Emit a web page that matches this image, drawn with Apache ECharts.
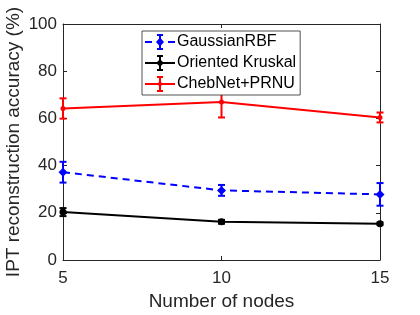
<!DOCTYPE html>
<html><head><meta charset="utf-8">
<script src="https://cdn.jsdelivr.net/npm/echarts@6/dist/echarts.min.js"></script>
<style>html,body{margin:0;padding:0;background:#fff}#c{width:420px;height:315px}</style>
</head><body><div id="c"></div>
<script>
const nodes = [5, 10, 15];
const gaussMean = [37.2, 29.5, 27.8];
const gaussErr = [4.4, 2.3, 4.8];
const kruskalMean = [20.3, 16.2, 15.4];
const kruskalErr = [1.7, 0.8, 0.5];
const chebMean = [64.2, 67.0, 60.4];
const chebErr = [4.3, 6.6, 2.1];
const yTicks = [0, 20, 40, 60, 80, 100];
const xTicks = [5, 10, 15];

const FONT = 'Liberation Sans';
const AX = '#262626';

function lineData(m) { return nodes.map((x, i) => [x, m[i]]); }
function errData(m, e) { return nodes.map((x, i) => [x, m[i] - e[i], m[i] + e[i]]); }
function errSeries(m, e, color) {
  return {
    type: 'custom', z: 3, silent: true,
    data: errData(m, e),
    renderItem: function (params, api) {
      const lo = api.coord([api.value(0), api.value(1)]);
      const hi = api.coord([api.value(0), api.value(2)]);
      const w = 3.5;
      const st = { stroke: color, lineWidth: 2 };
      return { type: 'group', children: [
        { type: 'line', shape: { x1: lo[0], y1: lo[1], x2: hi[0], y2: hi[1] }, style: st },
        { type: 'line', shape: { x1: lo[0] - w, y1: lo[1], x2: lo[0] + w, y2: lo[1] }, style: st },
        { type: 'line', shape: { x1: hi[0] - w, y1: hi[1], x2: hi[0] + w, y2: hi[1] }, style: st }
      ]};
    }
  };
}

// legend icons: line + error bar + marker, in a 30x18 box
const barPart = 'M14 1 L16 1 L16 17 L14 17 Z M12 1 L18 1 L18 3 L12 3 Z M12 15 L18 15 L18 17 L12 17 Z ';
const frame = 'M0 0 L0.01 0 L0.01 0.01 Z M30 18 L29.99 18 L29.99 17.99 Z ';
const iconGauss = 'path://' + frame + 'M0 8 L7 8 L7 10 L0 10 Z M23 8 L30 8 L30 10 L23 10 Z ' + barPart + 'M15 4.5 L19 9 L15 13.5 L11 9 Z';
const iconKrus = 'path://' + frame + 'M0 8 L30 8 L30 10 L0 10 Z ' + barPart + 'M13.5 6.5 L16.5 6.5 L17.5 7.5 L17.5 10.5 L16.5 11.5 L13.5 11.5 L12.5 10.5 L12.5 7.5 Z';
const iconCheb = 'path://' + frame + 'M0 8 L30 8 L30 10 L0 10 Z ' + barPart + 'M14 7 L16 7 L17 8 L17 10 L16 11 L14 11 L13 10 L13 8 Z';

const chart = echarts.init(document.getElementById('c'), null, { renderer: 'canvas' });
chart.setOption({
  animation: false,
  backgroundColor: '#fff',
  textStyle: { fontFamily: FONT },
  grid: { left: 63, right: 40, top: 24, bottom: 55, show: false, outerBoundsMode: 'none', containLabel: false },
  legend: {
    orient: 'vertical', left: 142, top: 31,
    data: [
      { name: 'GaussianRBF', icon: iconGauss },
      { name: 'Oriented Kruskal', icon: iconKrus },
      { name: 'ChebNet+PRNU', icon: iconCheb }
    ],
    backgroundColor: '#fff', borderColor: '#262626', borderWidth: 0.8,
    padding: [2, 4, 2, 3], itemGap: 3, itemWidth: 30, itemHeight: 18,
    textStyle: { fontFamily: FONT, fontSize: 16, color: '#000', padding: [0, 0, 0, -3] }
  },
  xAxis: [{
    type: 'value', min: 5, max: 15, interval: 5,
    name: 'Number of nodes', nameLocation: 'middle', nameGap: 32, nameMoveOverlap: false,
    nameTextStyle: { fontFamily: FONT, fontSize: 19, color: AX },
    axisLine: { show: true, lineStyle: { color: AX, width: 1 } },
    axisTick: { show: true, inside: true, length: 4, lineStyle: { color: AX } },
    axisLabel: { fontFamily: FONT, fontSize: 17, color: AX, margin: 10,
      formatter: v => xTicks.includes(v) ? String(v) : '' },
    splitLine: { show: false }
  }, {
    type: 'value', position: 'top', min: 5, max: 15, interval: 5,
    axisLine: { show: true, onZero: false, lineStyle: { color: AX, width: 1 } },
    axisTick: { show: true, inside: true, length: 4, lineStyle: { color: AX } },
    axisLabel: { show: false }, splitLine: { show: false }
  }],
  yAxis: [{
    type: 'value', min: 0, max: 100, interval: 20,
    name: 'IPT reconstruction accuracy (%)', nameLocation: 'middle', nameGap: 40, nameMoveOverlap: false,
    nameTextStyle: { fontFamily: FONT, fontSize: 19, color: AX },
    axisLine: { show: true, lineStyle: { color: AX, width: 1 } },
    axisTick: { show: true, inside: true, length: 4, lineStyle: { color: AX } },
    axisLabel: { fontFamily: FONT, fontSize: 17, color: AX, margin: 6,
      formatter: v => yTicks.includes(v) ? String(v) : '' },
    splitLine: { show: false }
  }, {
    type: 'value', position: 'right', min: 0, max: 100, interval: 20,
    axisLine: { show: true, onZero: false, lineStyle: { color: AX, width: 1 } },
    axisTick: { show: true, inside: true, length: 4, lineStyle: { color: AX } },
    axisLabel: { show: false }, splitLine: { show: false }
  }],
  series: [
    { name: 'GaussianRBF', type: 'line', data: lineData(gaussMean), z: 4,
      lineStyle: { color: '#0000ff', width: 2, type: [7, 5] },
      itemStyle: { color: '#0000ff' }, symbol: 'diamond', symbolSize: 9 },
    { name: 'Oriented Kruskal', type: 'line', data: lineData(kruskalMean), z: 4,
      lineStyle: { color: '#000', width: 2 },
      itemStyle: { color: '#000' }, symbol: 'circle', symbolSize: 7 },
    { name: 'ChebNet+PRNU', type: 'line', data: lineData(chebMean), z: 4,
      lineStyle: { color: '#ff0000', width: 2 },
      itemStyle: { color: '#ff0000' }, symbol: 'circle', symbolSize: 5 },
    errSeries(gaussMean, gaussErr, '#0000ff'),
    errSeries(kruskalMean, kruskalErr, '#000'),
    errSeries(chebMean, chebErr, '#ff0000')
  ]
});
</script></body></html>
